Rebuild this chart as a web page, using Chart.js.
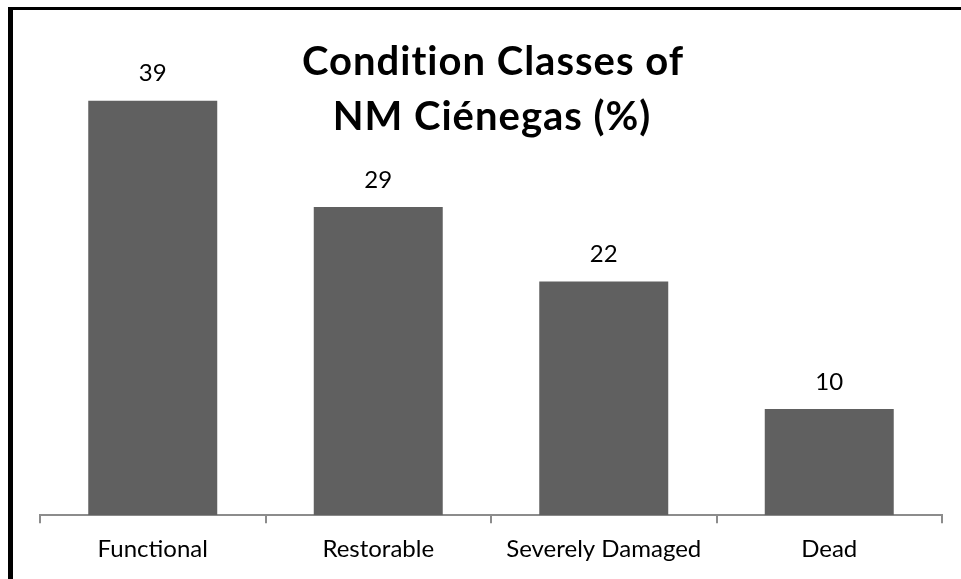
<!DOCTYPE html>
<html>
<head>
<meta charset="utf-8">
<script src="https://cdn.jsdelivr.net/npm/chart.js@4"></script>
<style>
  html, body { margin: 0; padding: 0; background: #fff; }
  #frame {
    position: absolute; left: 8px; top: 7px; width: 953px; height: 572px;
    border-left: 5px solid #000; border-top: 3px solid #000; box-sizing: border-box;
  }
  #wrap { position: absolute; left: 0; top: 0; width: 961px; height: 579px; }
</style>
</head>
<body>
<div id="frame"></div>
<div id="wrap"><canvas id="chart"></canvas></div>
<script>
const categories = ['Functional', 'Restorable', 'Severely Damaged', 'Dead'];
const percents = [39, 29, 22, 10];
const titleLines = ['Condition Classes of', 'NM Ciénegas (%)'];

const fontFamily = 'Lato, "Open Sans", sans-serif';

// value labels above each bar
const valueLabels = {
    id: 'valueLabels',
    afterDatasetsDraw(chart) {
        const ctx = chart.ctx;
        const meta = chart.getDatasetMeta(0);
        ctx.save();
        ctx.font = '24px ' + fontFamily;
        ctx.fillStyle = '#000';
        ctx.textAlign = 'center';
        ctx.textBaseline = 'middle';
        meta.data.forEach((bar, i) => {
            ctx.fillText(percents[i], bar.x, bar.y - 27);
        });
        ctx.restore();
    }
};

// overlaid title, like the spreadsheet one
const overlayTitle = {
    id: 'overlayTitle',
    afterDraw(chart) {
        const ctx = chart.ctx;
        ctx.save();
        ctx.font = 'bold 40px ' + fontFamily;
        ctx.letterSpacing = '1px'; // also stops the "ti" ligature
        ctx.fillStyle = '#000';
        ctx.textAlign = 'center';
        ctx.textBaseline = 'middle';
        ctx.fillText(titleLines[0], 493, 62);
        ctx.fillText(titleLines[1], 492, 117);
        ctx.restore();
    }
};

new Chart(document.getElementById('chart'), {
    type: 'bar',
    data: {
        labels: categories,
        datasets: [{
            data: percents,
            backgroundColor: '#606060',
            borderWidth: 0,
            categoryPercentage: 1,
            barPercentage: 0.572
        }]
    },
    options: {
        responsive: true,
        maintainAspectRatio: false,
        animation: false,
        layout: { padding: { left: 40, right: 19, top: 37, bottom: 3 } },
        plugins: {
            legend: { display: false },
            title: { display: false },
            tooltip: { enabled: false }
        },
        scales: {
            x: {
                grid: {
                    offset: true,
                    drawOnChartArea: false,
                    drawTicks: true,
                    tickLength: 8,
                    color: '#8c8c8c',
                    lineWidth: 2
                },
                border: { color: '#8c8c8c', width: 2 },
                ticks: {
                    color: '#000',
                    padding: 12,
                    font: { family: fontFamily, size: 24 }
                }
            },
            y: {
                display: false,
                min: 0,
                max: 45
            }
        }
    },
    plugins: [valueLabels, overlayTitle]
});
</script>
</body>
</html>
